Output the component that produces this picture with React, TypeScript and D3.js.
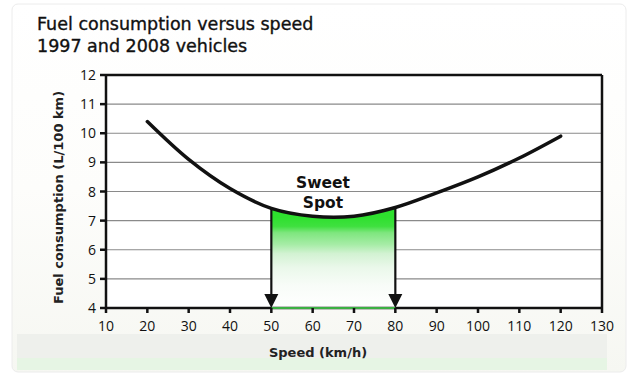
import React from "react";
import * as d3 from "d3";

const speeds = [20, 30, 40, 50, 60, 70, 80, 90, 100, 110, 120];
const consumption = [10.4, 9.1, 8.1, 7.42, 7.15, 7.15, 7.45, 7.95, 8.5, 9.15, 9.9];
const xTicks = [10, 20, 30, 40, 50, 60, 70, 80, 90, 100, 110, 120, 130];
const yTicks = [4, 5, 6, 7, 8, 9, 10, 11, 12];
const sweetRange = [50, 80];
const titleLines = ["Fuel consumption versus speed", "1997 and 2008 vehicles"];

const W = 640;
const H = 377;
const FONT = "'DejaVu Sans', Verdana, sans-serif";
const TICKFONT = "'Open Sans', 'DejaVu Sans', sans-serif";

export default function App() {
  const x = d3.scaleLinear().domain([10, 130]).range([106, 602]);
  const y = d3.scaleLinear().domain([4, 12]).range([308, 75]);
  const pts: [number, number][] = speeds.map((s, i) => [s, consumption[i]]);
  const line = d3
    .line<[number, number]>()
    .x((d) => x(d[0]))
    .y((d) => y(d[1]))
    .curve(d3.curveCatmullRom.alpha(0.5));
  const lineGen = line(pts) || "";

  const interp = (s: number) => {
    const i = Math.max(0, Math.min(speeds.length - 2, d3.bisectRight(speeds, s) - 1));
    const x0 = speeds[i], x1 = speeds[i + 1];
    const t = (s - x0) / (x1 - x0);
    const p0 = consumption[Math.max(0, i - 1)], p1 = consumption[i], p2 = consumption[i + 1], p3 = consumption[Math.min(speeds.length - 1, i + 2)];
    return 0.5 * (2 * p1 + (-p0 + p2) * t + (2 * p0 - 5 * p1 + 4 * p2 - p3) * t * t + (-p0 + 3 * p1 - 3 * p2 + p3) * t * t * t);
  };
  const sweetSpeeds = d3.range(sweetRange[0], sweetRange[1] + 0.01, 1);
  const area =
    d3
      .area<number>()
      .x((s) => x(s))
      .y0(y(4))
      .y1((s) => y(interp(s)))(sweetSpeeds) || "";

  const topSweet = y(d3.min(sweetSpeeds.map(interp)) as number);

  return (
    <svg width={W} height={H} style={{ position: "absolute", left: 0, top: 0, fontFamily: FONT }}>
      <defs>
        <linearGradient id="bg" x1="0" y1="0" x2="0" y2="1">
          <stop offset="0" stopColor="#ffffff" />
          <stop offset="0.5" stopColor="#fdfdfb" />
          <stop offset="1" stopColor="#f6f7f2" />
        </linearGradient>
        <linearGradient id="green" gradientUnits="userSpaceOnUse" x1="0" y1={topSweet} x2="0" y2={y(4)}>
          <stop offset="0" stopColor="#2ee02e" />
          <stop offset="0.1" stopColor="#3fe03f" />
          <stop offset="0.17" stopColor="#7ee67e" />
          <stop offset="0.3" stopColor="#a6eca6" />
          <stop offset="0.4" stopColor="#d2f2d2" />
          <stop offset="0.55" stopColor="#eaf8ea" />
          <stop offset="0.75" stopColor="#f8fcf8" />
          <stop offset="1" stopColor="#ffffff" />
        </linearGradient>
      </defs>
      <rect x={0} y={0} width={W} height={H} fill="#ffffff" />
      <rect x={12} y={4} width={614} height={368} rx={6} fill="url(#bg)" stroke="#ececec" strokeWidth={1} />
      <rect x={17} y={334} width={590} height={26} fill="#eef0ec" />
      <rect x={17} y={358} width={590} height={12} fill="#e6f5e4" />

      {titleLines.map((t, i) => (
        <text key={i} x={37} y={30 + i * 22} fontSize={17.5} fill="#111" stroke="#111" strokeWidth={0.35}>
          {t}
        </text>
      ))}

      <rect x={x(10)} y={y(12)} width={x(130) - x(10)} height={y(4) - y(12)} fill="#ffffff" />

      {yTicks.slice(1, -1).map((v) => (
        <line key={v} x1={x(10)} x2={x(130)} y1={y(v)} y2={y(v)} stroke="#8a8a8a" strokeWidth={1.2} />
      ))}

      <path d={area} fill="url(#green)" />

      <line x1={x(10)} x2={x(130)} y1={y(12)} y2={y(12)} stroke="#111" strokeWidth={2.5} />
      <line x1={x(130)} x2={x(130)} y1={y(12)} y2={y(4)} stroke="#111" strokeWidth={2.5} />
      <line x1={x(10)} x2={x(10)} y1={y(12)} y2={y(4)} stroke="#111" strokeWidth={2.5} />
      <line x1={x(10)} x2={x(130)} y1={y(4)} y2={y(4)} stroke="#111" strokeWidth={2.5} />
      <line x1={x(sweetRange[0])} x2={x(sweetRange[1])} y1={y(4)} y2={y(4)} stroke="#3cb043" strokeWidth={2} />

      {yTicks.map((v) => (
        <g key={v}>
          <line x1={x(10) - 6} x2={x(10)} y1={y(v)} y2={y(v)} stroke="#111" strokeWidth={2.5} />
          <text x={x(10) - 10} y={y(v)} dy="0.36em" textAnchor="end" fontSize={14} fontFamily={TICKFONT} fill="#111">
            {v}
          </text>
        </g>
      ))}
      {xTicks.map((v) => (
        <g key={v}>
          <line x1={x(v)} x2={x(v)} y1={y(4)} y2={y(4) + 5} stroke="#111" strokeWidth={2.5} />
          <text x={x(v)} y={y(4) + 23} textAnchor="middle" fontSize={14} fontFamily={TICKFONT} fill="#111">
            {v}
          </text>
        </g>
      ))}

      <text x={318} y={357} textAnchor="middle" fontSize={13} fontWeight="bold" fill="#222">
        Speed (km/h)
      </text>
      <text
        transform={`translate(63, ${(y(4) + y(12)) / 2 + 6}) rotate(-90)`}
        textAnchor="middle"
        fontSize={13}
        fontWeight="bold"
        fill="#222"
      >
        Fuel consumption (L/100 km)
      </text>

      {sweetRange.map((s) => (
        <g key={s}>
          <line x1={x(s)} x2={x(s)} y1={y(interp(s))} y2={y(4) - 10} stroke="#111" strokeWidth={2.2} />
          <path d={`M${x(s) - 7},${y(4) - 14} L${x(s) + 7},${y(4) - 14} L${x(s)},${y(4)} Z`} fill="#111" />
        </g>
      ))}

      <path d={lineGen} fill="none" stroke="#111" strokeWidth={3.5} strokeLinecap="round" />

      <text x={323} y={188} textAnchor="middle" fontSize={15.5} fontWeight="bold" fill="#111">
        Sweet
      </text>
      <text x={323} y={208} textAnchor="middle" fontSize={15.5} fontWeight="bold" fill="#111">
        Spot
      </text>
    </svg>
  );
}
